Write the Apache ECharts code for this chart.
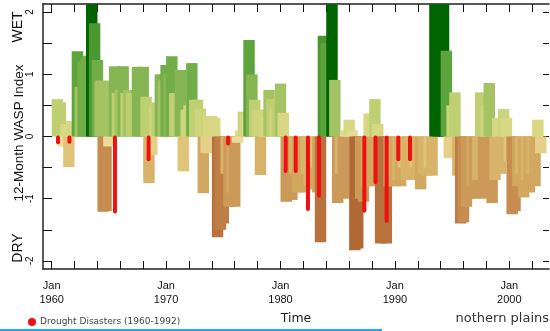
<!DOCTYPE html>
<html><head><meta charset="utf-8">
<script src="https://cdn.jsdelivr.net/npm/echarts@6/dist/echarts.min.js"></script>
<style>html,body{margin:0;padding:0;background:#fff}#c{width:550px;height:331px}</style>
</head><body><div id="c"></div>
<script>
// 12-month WASP index, quarterly readings starting Jan 1960 (4 values per year)
const startYear = 1960;
const waspIndex = [
  0.6, 0.55, -0.16, 0.2,      // 1960
  -0.49, 0.25, 0.25, 1.37,    // 1961
  0.8, 1.2, 1.25, 1.3,        // 1962
  2.4, 1.82, 1.23, 0.9,       // 1963
  -1.21, -1.2, -0.16, 0.9,    // 1964
  1.13, 0.7, 0.75, 1.13,      // 1965
  0.7, 0.75, 0.7, 0.58,       // 1966
  1.12, 1.05, 1.12, 0.64,     // 1967
  -0.75, -0.3, 0.5, 0.55,     // 1968
  1.0, 0.9, 1.15, 1.0,        // 1969
  1.29, 0.7, 0.6, 1.07,       // 1970
  -0.56, 0.43, 0.5, 1.18,     // 1971
  0.59, 0.59, 0.45, -0.91,    // 1972
  -0.27, 0.33, 0.33, 0.3,     // 1973
  -1.62, -1.5, -1.4, -0.6,    // 1974
  -1.13, -0.9, -1.13, -0.1,   // 1975
  0.1, 0.4, 0.35, 1.55,       // 1976
  1.0, 0.59, 0.43, -0.62,     // 1977
  0.43, 0.3, 0.75, 0.6,       // 1978
  0.45, 0.6, 0.85, 0.38,      // 1979
  -1.05, -0.5, -1.02, -0.6,   // 1980
  -0.9, -0.5, -0.9, -0.6,     // 1981
  -0.78, -0.85, -0.5, -0.9,   // 1982
  -1.7, 1.62, 1.5, 1.4,       // 1983
  2.4, 0.91, -1.07, -0.6,     // 1984
  -1.0, 0.1, 0.27, 0.1,       // 1985
  -1.83, -1.8, -1.0, -1.05,   // 1986
  -0.8, 0.37, -0.8, 0.6,      // 1987
  0.2, -1.72, -1.6, -1.72,    // 1988
  -0.8, -0.6, -0.8, -0.7,     // 1989
  -0.8, -0.5, -0.7, -0.6,     // 1990
  -0.7, -0.5, -0.7, -0.85,    // 1991
  -0.6, -0.63, -0.5, -0.63,   // 1992
  2.5, 2.3, 2.2, 2.2,         // 1993
  1.38, -0.35, 0.5, 0.71,     // 1994
  -0.63, -1.4, -1.38, -1.13,  // 1995
  -1.0, -0.8, -1.0, -0.7,     // 1996
  0.71, -1.0, 0.5, 0.86,      // 1997
  -1.07, -0.7, 0.3, -0.6,     // 1998
  0.44, 0.3, -0.4, -1.25,     // 1999
  -1.2, -0.8, -0.6, -0.98,    // 2000
  -0.7, -0.9, -0.6, -0.8,     // 2001
  0.27, -0.27                 // 2002
];
// Drought disasters (1960-1992): time and depth of red marks
const droughtYears = [1960.55, 1961.55, 1965.53, 1968.47, 1975.42, 1980.45, 1981.33, 1982.4, 1983.37, 1987.33, 1988.3, 1989.28, 1990.3, 1991.32];
const droughtDepth = [-0.11, -0.1, -1.22, -0.38, -0.13, -0.57, -0.57, -1.18, -0.97, -1.21, -0.75, -1.37, -0.38, -0.38];
// axis ticks / labels
const xTickYears = [1960,1962,1964,1966,1968,1970,1972,1974,1976,1978,1980,1982,1984,1986,1988,1990,1992,1994,1996,1998,2000,2002];
const xLabelYears = [1960,1970,1980,1990,2000];
const yTicks = [-2,-1.5,-1,-0.5,0,0.5,1,1.5,2];
const yLabels = [-2,-1,0,1,2];

// colour scale
const wetBreaks = [0.2,0.4,0.55,0.75,0.95,1.15,1.35,1.6,1.9,2.1];
const wetColors = ['#e2dc92','#d8d884','#ccd47c','#bed072','#a4c464','#86b654','#72ae48','#5ea43c','#4a9830','#2a7e1e','#006400'];
const dryBreaks = [0.2,0.4,0.6,0.8,1.0,1.2,1.4,1.6,1.8];
const dryColors = ['#ecdc98','#e6d088','#e0c478','#d8b46a','#d2a860','#cc9a58','#c68c50','#be7e46','#b8723e','#b06834'];
function waspColor(v){
  const a = Math.abs(v);
  const br = v >= 0 ? wetBreaks : dryBreaks, cs = v >= 0 ? wetColors : dryColors;
  let i = 0; while (i < br.length && a >= br[i]) i++;
  return cs[i];
}
const barSpan = 1; // each 12-month value is drawn one year wide

const waspData = waspIndex.map((v,i)=>[startYear + i*0.25, v]);
const droughtData = droughtYears.map((t,i)=>[t, droughtDepth[i]]);

const xMin = 1959.24, xMax = 2003.47, yMin = -2.13, yMax = 2.13;
const baseGraphics = [
  {type:'text', x:18, y:27, rotation:Math.PI/2, style:{text:'WET', font:'14px "Liberation Sans"', fill:'#111', align:'center', verticalAlign:'middle'}},
  {type:'text', x:18, y:248, rotation:Math.PI/2, style:{text:'DRY', font:'14px "Liberation Sans"', fill:'#111', align:'center', verticalAlign:'middle'}},
  {type:'text', x:19, y:133, rotation:Math.PI/2, style:{text:'12-Month WASP Index', font:'13.5px "Liberation Sans"', fill:'#111', align:'center', verticalAlign:'middle'}},
  {type:'circle', shape:{cx:32, cy:322, r:4}, style:{fill:'#ee1111'}},
  {type:'text', x:40, y:322, style:{text:'Drought Disasters (1960-1992)', font:'9px "DejaVu Sans"', fill:'#444', align:'left', verticalAlign:'middle'}},
  {type:'text', x:549, y:319, style:{text:'nothern plains', font:'13px "DejaVu Sans"', fill:'#333', align:'right', verticalAlign:'middle'}},
  {type:'rect', shape:{x:0, y:329, width:382, height:2}, style:{fill:'#20a8f0'}}
];
const chart = echarts.init(document.getElementById('c'));
chart.setOption({
  animation:false,
  grid:{left:43, right:1, top:4, bottom:62},
  xAxis:[{
    type:'value', min:xMin, max:xMax, position:'bottom',
    axisLine:{onZero:false, lineStyle:{color:'#222', width:1.5}},
    axisTick:{inside:true, length:8, customValues:xTickYears, lineStyle:{color:'#111'}},
    axisLabel:{customValues:xLabelYears, formatter:v=>'Jan\n'+v, fontFamily:'Liberation Sans', fontSize:11, color:'#111', lineHeight:14, margin:10},
    splitLine:{show:false},
    name:'Time', nameLocation:'middle', nameGap:43,
    nameTextStyle:{fontFamily:'DejaVu Sans', fontSize:12.5, color:'#222'}
  },{
    type:'value', min:xMin, max:xMax, position:'top',
    axisLine:{onZero:false, lineStyle:{color:'#222', width:1.5}},
    axisTick:{inside:true, length:8, customValues:xTickYears, lineStyle:{color:'#111'}},
    axisLabel:{show:false}, splitLine:{show:false}
  }],
  yAxis:[{
    type:'value', min:yMin, max:yMax, position:'left',
    axisLine:{onZero:false, lineStyle:{color:'#5a5a5a', width:2}},
    axisTick:{inside:true, length:9, customValues:yTicks, lineStyle:{color:'#111'}},
    axisLabel:{show:false},
    splitLine:{show:false}
  },{
    type:'value', min:yMin, max:yMax, position:'right',
    axisLine:{show:false, onZero:false},
    axisTick:{show:true, inside:true, length:6, customValues:yTicks, lineStyle:{color:'#111'}},
    axisLabel:{show:false}, splitLine:{show:false}
  }],
  series:[{
    type:'custom', xAxisIndex:0, yAxisIndex:0, clip:true, data:waspData,
    renderItem:function(params, api){
      const t = api.value(0), v = api.value(1);
      const a = api.coord([t, 0]), b = api.coord([t + barSpan, v]);
      return {type:'rect', shape:{x:a[0], y:Math.min(a[1],b[1]), width:b[0]-a[0], height:Math.abs(b[1]-a[1])}, style:{fill:waspColor(v)}};
    }
  },{
    type:'custom', xAxisIndex:0, yAxisIndex:0, clip:true, z:5, data:droughtData,
    renderItem:function(params, api){
      const t = api.value(0), v = api.value(1);
      const a = api.coord([t, 0]), b = api.coord([t, v]);
      return {type:'rect', shape:{x:a[0]-2, y:a[1]-1, width:4, height:b[1]-a[1]+2, r:2}, style:{fill:'#f01010'}};
    }
  }],
  graphic:baseGraphics
});
// rotated y tick labels placed through the y axis scale
const yLabelGraphics = yLabels.map(v => ({
  type:'text', x:30, y:chart.convertToPixel({yAxisIndex:0}, v), rotation:Math.PI/2,
  style:{text:String(v), font:'10px "Liberation Sans"', fill:'#111', align:'center', verticalAlign:'middle'}
}));
chart.setOption({graphic: baseGraphics.concat(yLabelGraphics)});
</script>
</body></html>
